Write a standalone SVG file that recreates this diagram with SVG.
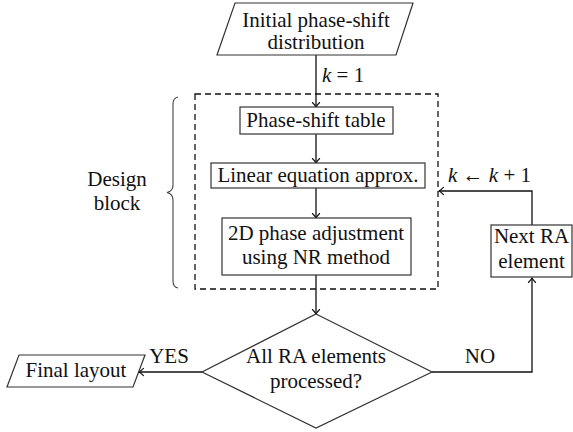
<svg xmlns="http://www.w3.org/2000/svg" width="573" height="432" viewBox="0 0 573 432">
  <style>
    .shape { fill: #fff; stroke: #333; stroke-width: 1.2; }
    .wire { fill: none; stroke: #111; stroke-width: 1.3; }
    .dash { fill: none; stroke: #111; stroke-width: 1.3; stroke-dasharray: 6 4; }
    .brace { fill: none; stroke: #444; stroke-width: 1.1; }
    text { font-family: "Liberation Serif", Tinos, "Times New Roman", "Nimbus Roman", FreeSerif, serif; font-size: 21px; fill: #111; text-anchor: middle; }
    .lbl { text-anchor: start; }
    .it { font-style: italic; }
  </style>
  <defs>
    <marker id="arrow" viewBox="-6 -5 8 10" refX="0" refY="0" markerWidth="8" markerHeight="10" markerUnits="userSpaceOnUse" orient="auto">
      <path d="M-4.5,-3.6 Q-1.6,-0.8 0,0 Q-1.6,0.8 -4.5,3.6" fill="none" stroke="#111" stroke-width="1.1" stroke-linecap="round"/>
    </marker>
  </defs>

  <!-- dashed design-block frame with its brace and caption -->
  <g id="design-block">
    <rect class="dash" x="195" y="94" width="243" height="195"/>
    <path class="brace" d="M178,97 Q173,98 173,104 L173,185 Q173,191 167,192.5 Q173,194 173,200 L173,281 Q173,287 178,288"/>
    <text x="117" y="186">Design</text>
    <text x="117" y="210">block</text>
  </g>

  <g id="connectors">
    <line class="wire" x1="316" y1="55" x2="316" y2="107" marker-end="url(#arrow)"/>
    <line class="wire" x1="316" y1="134" x2="316" y2="163" marker-end="url(#arrow)"/>
    <line class="wire" x1="316" y1="188" x2="316" y2="218" marker-end="url(#arrow)"/>
    <line class="wire" x1="316" y1="275" x2="316" y2="314" marker-end="url(#arrow)"/>
    <line class="wire" x1="202" y1="372" x2="139" y2="372" marker-end="url(#arrow)"/>
    <polyline class="wire" points="432,372 532,372 532,278" marker-end="url(#arrow)"/>
    <polyline class="wire" points="532,225 532,191 439,191" marker-end="url(#arrow)"/>
    <text class="lbl" x="322" y="82"><tspan class="it">k</tspan> = 1</text>
    <text class="lbl" x="448" y="182"><tspan class="it">k</tspan> ← <tspan class="it">k</tspan> + 1</text>
    <text x="169" y="363">YES</text>
    <text x="480" y="363">NO</text>
  </g>

  <g id="initial">
    <polygon class="shape" points="235,3 413,3 396,55 217,55"/>
    <text x="316" y="27">Initial phase-shift</text>
    <text x="316" y="49">distribution</text>
  </g>

  <g id="table">
    <rect class="shape" x="240" y="107" width="153" height="27"/>
    <text x="316" y="127">Phase-shift table</text>
  </g>

  <g id="linear">
    <rect class="shape" x="211" y="163" width="214" height="25"/>
    <text x="318" y="182">Linear equation approx.</text>
  </g>

  <g id="adjust">
    <rect class="shape" x="222" y="218" width="189" height="57"/>
    <text x="316" y="240">2D phase adjustment</text>
    <text x="316" y="264">using NR method</text>
  </g>

  <g id="decision">
    <polygon class="shape" points="316,314 432,372 316,428 202,372"/>
    <text x="316" y="363">All RA elements</text>
    <text x="316" y="388">processed?</text>
  </g>

  <g id="final">
    <polygon class="shape" points="19,355 145,355 133,387 7,387"/>
    <text x="76" y="377">Final layout</text>
  </g>

  <g id="next">
    <rect class="shape" x="491" y="225" width="81" height="52"/>
    <text x="531.5" y="243">Next RA</text>
    <text x="531.5" y="268">element</text>
  </g>
</svg>
